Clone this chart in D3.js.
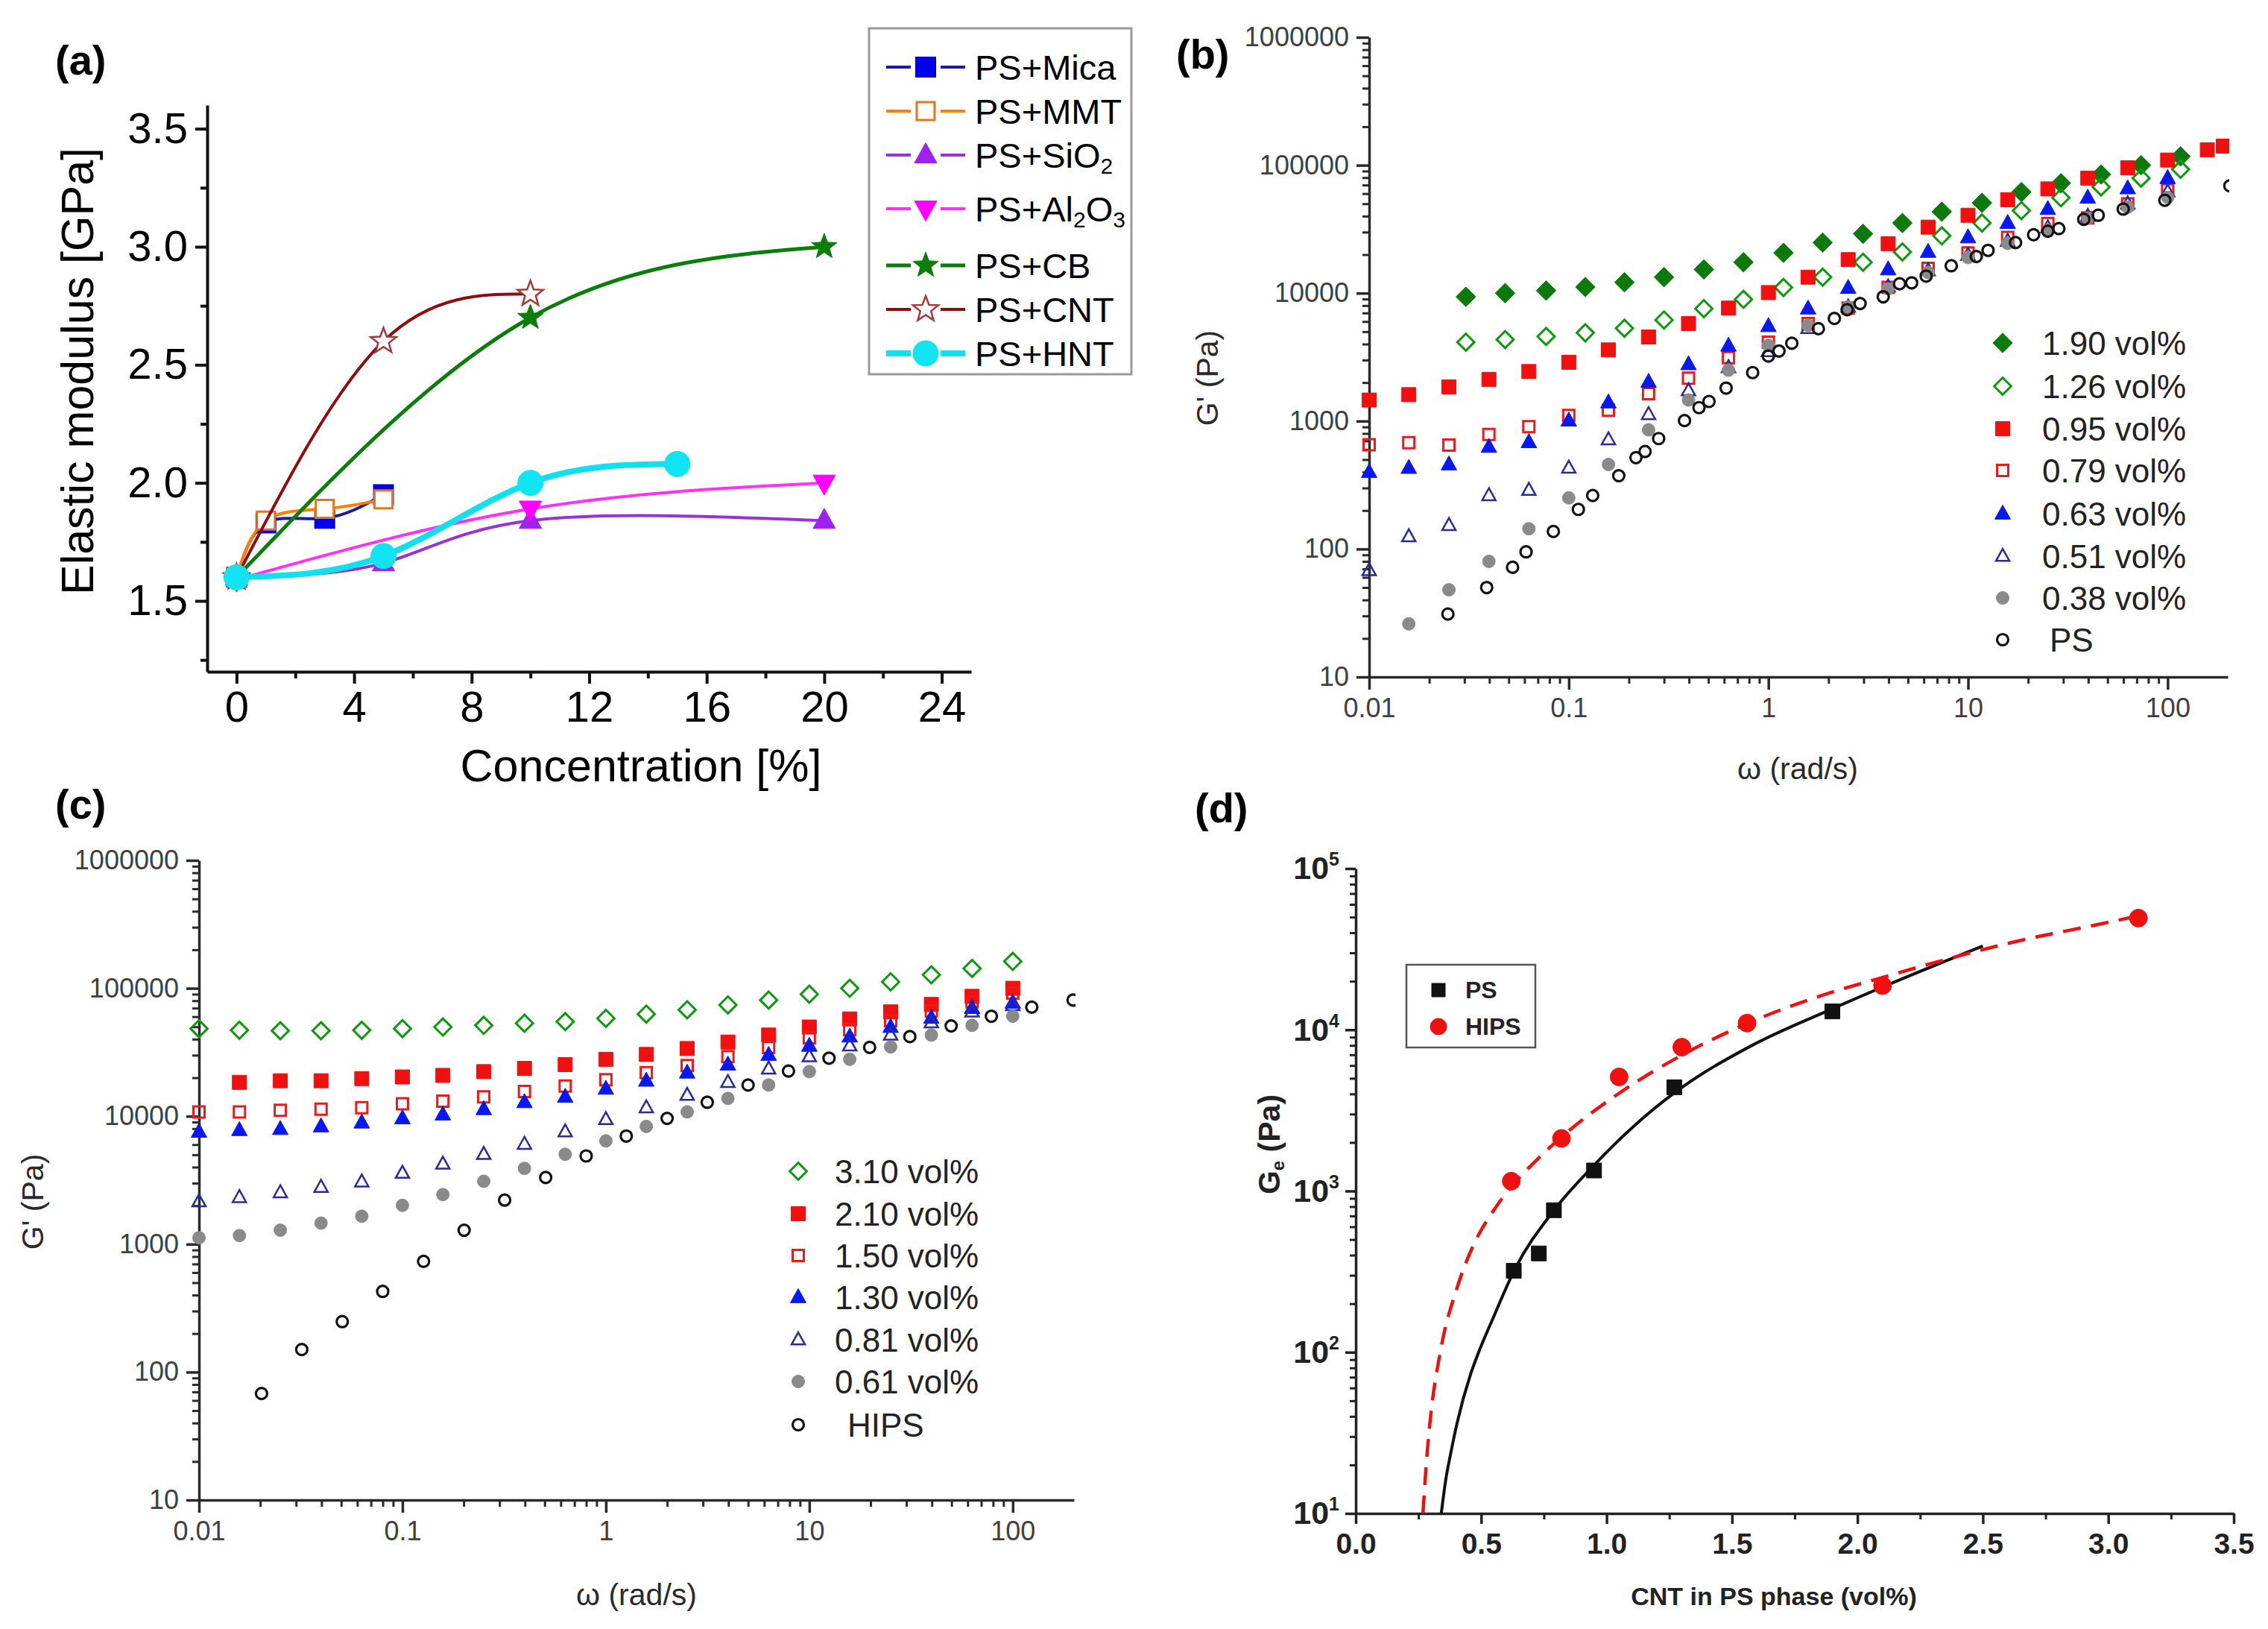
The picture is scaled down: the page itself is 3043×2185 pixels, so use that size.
<!DOCTYPE html>
<html><head><meta charset="utf-8">
<script src="https://cdn.jsdelivr.net/npm/d3@7"></script>
<style>body{margin:0;background:#fff}svg{display:block}</style>
</head><body><svg id="fig" width="3043" height="2185"></svg>
<script>
// ---------------- DATA ----------------
// (a) Elastic modulus vs concentration
const aXDomain = [-1, 25];
const aYDomain = [1.2, 3.6];
const aXTicks = [0, 4, 8, 12, 16, 20, 24];
const aXMinor = [2, 6, 10, 14, 18, 22];
const aYTicks = [1.5, 2.0, 2.5, 3.0, 3.5];
const aYMinor = [1.25, 1.75, 2.25, 2.75, 3.25];
const aLabels = ["PS+Mica", "PS+MMT", "PS+SiO_2", "PS+Al_2O_3", "PS+CB", "PS+CNT", "PS+HNT"];
const micaX = [0, 1, 3, 5];      const micaY = [1.60, 1.83, 1.85, 1.95];
const mmtX = [0, 1, 3, 5];       const mmtY = [1.60, 1.84, 1.89, 1.93];
const sio2X = [0, 5, 10, 20];    const sio2Y = [1.60, 1.66, 1.84, 1.84];
const al2o3X = [0, 10, 20];      const al2o3Y = [1.59, 1.89, 2.00];
const cbX = [0, 10, 20];         const cbY = [1.60, 2.70, 3.00];
const cntX = [0, 5, 10];         const cntY = [1.60, 2.60, 2.80];
const hntX = [0, 5, 10, 15];     const hntY = [1.60, 1.69, 2.00, 2.08];

// (b) G' vs omega, PS nanocomposites
const logXTicks = [0.01, 0.1, 1, 10, 100];
const logYTicks = [10, 100, 1000, 10000, 100000, 1000000];
const bLabels = ["1.90 vol%", "1.26 vol%", "0.95 vol%", "0.79 vol%", "0.63 vol%", "0.51 vol%", "0.38 vol%", "PS"];
const bFreqA = [0.01,0.0158,0.0251,0.0398,0.0631,0.1,0.158,0.251,0.398,0.631,1,1.58,2.51,3.98,6.31,10,15.8,25.1,39.8,63.1,100,158,190];
const bFreqB = [0.0305,0.048,0.077,0.121,0.19,0.30,0.475,0.75,1.19,1.87,2.98,4.69,7.39,11.75,18.5,29.2,46.4,73.6,116];
const b190 = [9370,10000,10470,11170,12160,13340,15320,17450,20650,24830,29100,35340,43350,50800,61700,72300,84600,100000,117200];
const b126 = [4140,4340,4590,4900,5320,6170,7570,8950,11070,13330,17450,21000,28050,35340,44200,55700,67700,79300,92900];
const b095 = [1460,1610,1850,2120,2440,2880,3600,4540,5780,7640,10100,13330,18280,24380,32800,40640,53700,65300,79300,95500,109700,132100,141000];
const b079 = [653,678,650,785,904,1107,1216,1637,2162,3133,4140,5780,7640,11070,15630,20650,27240,35000,38800,49900,64000];
const b063 = [399,430,458,628,684,1009,1397,2025,2779,3880,5520,7570,10970,15320,21000,27240,35340,45400,55700,65900,79300];
const b051 = [68,125,153,262,288,430,716,1127,1729,2626,3500,5300,7800,11200,15000,19800,25500,32500,40000,50000,62000];
const b038 = [26,48,80,144,251,458,854,1462,2500,3900,5600,7800,10800,14500,19000,24500,31000,38500,47000,56000];
const bPsX = [0.0248,0.0388,0.0523,0.0611,0.0837,0.1117,0.1318,0.178,0.217,0.241,0.282,0.380,0.449,0.504,0.614,0.834,1.0,1.13,1.31,1.78,2.14,2.48,2.88,3.76,4.54,5.22,6.17,8.24,11.0,12.6,17.3,21.3,25.1,28.5,38.0,44.9,59.9,96.8,205];
const bPsY = [31,50,72,95,137,204,262,374,518,578,730,1009,1274,1423,1811,2393,3220,3530,4060,5270,6340,7430,8300,9370,11830,12050,13600,16370,19320,21600,24830,28580,30500,31930,37760,40640,45400,53200,69000];

// (c) G' vs omega, HIPS nanocomposites
const cLabels = ["3.10 vol%", "2.10 vol%", "1.50 vol%", "1.30 vol%", "0.81 vol%", "0.61 vol%", "HIPS"];
const cFreq = [0.01,0.0158,0.0251,0.0398,0.0631,0.1,0.158,0.251,0.398,0.631,1,1.58,2.51,3.98,6.31,10,15.8,25.1,39.8,63.1,100];
const c310 = [48400,47000,46600,46600,47000,48400,49800,51300,53300,54900,58200,62900,67900,74100,80900,89900,100000,112300,127400,142900,162200];
const c210 = [18400,18930,18930,19680,20270,20850,22320,23650,25300,27860,30400,33810,38000,43100,49800,57600,65400,74800,86500,100000];
const c150 = [10810,10810,11120,11340,11670,12500,13120,14170,15610,17180,19310,21900,24850,29240,34500,41000,47500,55900,66600,78500,91700];
const c130 = [7550,7780,7930,8320,8910,9620,10300,11340,12860,14170,16380,18930,21900,25300,30130,35500,41900,49800,58700,70000,77100];
const c081 = [2150,2320,2530,2790,3070,3590,4230,5040,6050,7560,9440,11670,14590,18410,23440,29240,35500,43100,53800,65400,73400];
const c061 = [1122,1167,1285,1460,1653,2010,2440,3100,3910,5040,6410,8320,10810,13770,17540,22320,27860,34830,43100,51300,60500];
const cHipsX = [0.0203,0.032,0.0506,0.080,0.127,0.201,0.318,0.506,0.80,1.26,2.0,3.15,5.0,7.9,12.5,19.8,31.2,49.8,78.5,124,198];
const cHipsY = [68,150,248,427,734,1285,2210,3320,4890,7000,9620,12860,17540,22540,28440,34500,41900,50800,60500,71300,80900];

// (d) Ge vs CNT in PS phase
const dXTicks = [0, 0.5, 1.0, 1.5, 2.0, 2.5, 3.0, 3.5];
const dYTicks = [10, 100, 1000, 10000, 100000];
const dLabels = ["PS", "HIPS"];
const dPsX = [0.63, 0.73, 0.79, 0.95, 1.27, 1.90];
const dPsY = [320, 410, 760, 1340, 4400, 13000];
const dHipsX = [0.62, 0.82, 1.05, 1.30, 1.56, 2.10, 3.12];
const dHipsY = [1150, 2120, 5100, 7800, 11000, 18800, 49300];
const dPsFitX = [0.341,0.36,0.377,0.404,0.457,0.49,0.544,0.633,0.79,0.944,1.1,1.28,1.576,1.9,2.2,2.5];
const dPsFitY = [10,16.6,22.9,36.3,72.4,100,158,324,759,1413,2455,4169,7943,13490,21380,33110];
const dHipsFitX = [0.268,0.281,0.297,0.337,0.404,0.471,0.55,0.617,0.72,0.824,1.044,1.297,1.547,1.872,2.09,2.315,2.611,2.98,3.1];
const dHipsFitY = [10,20,38,100,251,468,759,1047,1549,2188,3981,6918,10715,16596,20893,26303,34674,45709,50119];

// ---------------- DRAWING ----------------
const FONT = '"Liberation Sans", Arial, Helvetica, sans-serif';
const svg = d3.select('#fig');
svg.append('rect').attr('width', 3043).attr('height', 2185).attr('fill', '#fff');
const zip = (xs, ys) => xs.map((x, i) => [x, ys[i]]);

function symPath(shape, w) {
  const h = w / 2;
  if (shape === 'square') return `M${-h},${-h}H${h}V${h}H${-h}Z`;
  if (shape === 'diamond') { const k = h * 1.2; return `M0,${-k}L${k},0L0,${k}L${-k},0Z`; }
  if (shape === 'circle') return `M${h},0A${h},${h} 0 1,1 ${-h},0A${h},${h} 0 1,1 ${h},0Z`;
  if (shape === 'triUp') return `M0,${-h * 1.1}L${h},${h * 0.7}L${-h},${h * 0.7}Z`;
  if (shape === 'triDown') return `M0,${h * 1.1}L${h},${-h * 0.7}L${-h},${-h * 0.7}Z`;
  if (shape === 'star') {
    let p = '';
    for (let i = 0; i < 10; i++) {
      const r = i % 2 === 0 ? h : h * 0.42;
      const a = -Math.PI / 2 + i * Math.PI / 5;
      p += (i === 0 ? 'M' : 'L') + (r * Math.cos(a)).toFixed(2) + ',' + (r * Math.sin(a)).toFixed(2);
    }
    return p + 'Z';
  }
}
function marks(g, pts, sx, sy, st) {
  g.append('g').selectAll('path').data(pts).join('path')
    .attr('d', symPath(st.shape, st.size))
    .attr('transform', d => `translate(${sx(d[0])},${sy(d[1])})`)
    .attr('fill', st.fill).attr('stroke', st.stroke).attr('stroke-width', st.sw || 0);
}
function styleAxis(sel, o) {
  sel.select('.domain').attr('stroke', o.color).attr('stroke-width', o.sw);
  sel.selectAll('.tick line').attr('stroke', o.color).attr('stroke-width', o.sw);
  sel.selectAll('.tick text').attr('font-family', FONT).attr('font-size', o.fs)
    .attr('font-weight', o.fw || 'normal').attr('fill', o.tc || '#000');
}
function minorAxis(g, axis, transform, color, sw) {
  const m = g.append('g').attr('transform', transform).call(axis);
  m.select('.domain').remove();
  m.selectAll('.tick line').attr('stroke', color).attr('stroke-width', sw);
  m.selectAll('text').remove();
}
function txt(g, x, y, s, o) {
  const t = g.append('text').attr('x', x).attr('y', y).attr('font-family', FONT)
    .attr('font-size', o.fs).attr('font-weight', o.fw || 'normal').attr('fill', o.fill || '#000')
    .attr('text-anchor', o.anchor || 'start');
  if (o.rot) t.attr('transform', `rotate(${o.rot},${x},${y})`);
  if (o.db) t.attr('dominant-baseline', o.db);
  t.text(s);
  return t;
}
function logMinor(lo, hi) {
  const out = [];
  for (let e = Math.floor(Math.log10(lo)); e < Math.ceil(Math.log10(hi)); e++)
    for (let k = 2; k <= 9; k++) { const v = k * Math.pow(10, e); if (v > lo && v < hi) out.push(v); }
  return out;
}

// ===== Panel (a) =====
(function () {
  const P = { l: 278, r: 1303, t: 141, b: 901 };
  const x = d3.scaleLinear().domain(aXDomain).range([P.l, P.r]);
  const y = d3.scaleLinear().domain(aYDomain).range([P.b, P.t]);
  const g = svg.append('g');
  const ax = { color: '#111', sw: 4, fs: 58 };
  minorAxis(g, d3.axisBottom(x).tickValues(aXMinor).tickSize(9).tickSizeOuter(0), `translate(0,${P.b})`, '#111', 4);
  minorAxis(g, d3.axisLeft(y).tickValues(aYMinor).tickSize(9).tickSizeOuter(0), `translate(${P.l},0)`, '#111', 4);
  g.append('g').attr('transform', `translate(0,${P.b})`)
    .call(d3.axisBottom(x).tickValues(aXTicks).tickFormat(d3.format('d')).tickSize(16).tickSizeOuter(0).tickPadding(10))
    .call(s => styleAxis(s, ax));
  g.append('g').attr('transform', `translate(${P.l},0)`)
    .call(d3.axisLeft(y).tickValues(aYTicks).tickFormat(d3.format('.1f')).tickSize(16).tickSizeOuter(0).tickPadding(10))
    .call(s => styleAxis(s, ax));
  txt(g, 104, 498, 'Elastic modulus [GPa]', { fs: 61, anchor: 'middle', rot: -90, db: 'central' });
  txt(g, 860, 1048, 'Concentration [%]', { fs: 61, anchor: 'middle' });
  txt(g, 74, 100, '(a)', { fs: 56, fw: 'bold' });

  const series = [
    { xs: micaX, ys: micaY, line: '#1b1b9c', lw: 4, m: { shape: 'square', size: 26, fill: '#0000f0', stroke: '#0000c8', sw: 2 } },
    { xs: mmtX, ys: mmtY, line: '#ff8000', lw: 4, m: { shape: 'square', size: 24, fill: '#fff', stroke: '#e8741a', sw: 3 } },
    { xs: sio2X, ys: sio2Y, line: '#9a30d8', lw: 4, m: { shape: 'triUp', size: 30, fill: '#a020f0', stroke: '#a020f0', sw: 1 } },
    { xs: al2o3X, ys: al2o3Y, line: '#ff30ff', lw: 4, m: { shape: 'triDown', size: 30, fill: '#ff00ff', stroke: '#ff00ff', sw: 1 } },
    { xs: cbX, ys: cbY, line: '#0a7d0a', lw: 5, m: { shape: 'star', size: 36, fill: '#0a7d0a', stroke: '#0a7d0a', sw: 1 } },
    { xs: cntX, ys: cntY, line: '#900c0c', lw: 4, m: { shape: 'star', size: 36, fill: '#fff', stroke: '#a33a3a', sw: 2.5 } },
    { xs: hntX, ys: hntY, line: '#10e0ee', lw: 8, m: { shape: 'circle', size: 34, fill: '#10e4f0', stroke: '#10e4f0', sw: 1 } }
  ];
  const line = d3.line().x(d => x(d[0])).y(d => y(d[1])).curve(d3.curveNatural);
  series.forEach(s => {
    g.append('path').attr('d', line(zip(s.xs, s.ys))).attr('fill', 'none')
      .attr('stroke', s.line).attr('stroke-width', s.lw);
    marks(g, zip(s.xs, s.ys), x, y, s.m);
  });
  // legend
  const L = g.append('g');
  L.append('rect').attr('x', 1166).attr('y', 38).attr('width', 352).attr('height', 464)
    .attr('fill', '#fff').attr('stroke', '#9a9a9a').attr('stroke-width', 3);
  const rows = [90, 149, 208, 280, 356, 415, 474];
  series.forEach((s, i) => {
    const ry = rows[i];
    L.append('line').attr('x1', 1189).attr('x2', 1222).attr('y1', ry).attr('y2', ry).attr('stroke', s.line).attr('stroke-width', s.lw);
    L.append('line').attr('x1', 1262).attr('x2', 1295).attr('y1', ry).attr('y2', ry).attr('stroke', s.line).attr('stroke-width', s.lw);
    L.append('path').attr('d', symPath(s.m.shape, s.m.size)).attr('transform', `translate(1242,${ry})`)
      .attr('fill', s.m.fill).attr('stroke', s.m.stroke).attr('stroke-width', s.m.sw);
    const t = txt(L, 1308, ry, '', { fs: 47, db: 'central' });
    aLabels[i].split(/_(\d)/).forEach((part, k) => {
      if (!part) return;
      if (k % 2 === 1) t.append('tspan').attr('font-size', 30).attr('dy', 14).text(part);
      else t.append('tspan').attr('dy', k > 0 ? -14 : 0).text(part);
    });
  });
})();

// ===== log-log panels (b), (c) =====
function logPanel(P, xMax, labelTxt, labelPos, ytPos, xtPos, series, leg) {
  const x = d3.scaleLog().domain([0.01, xMax]).range([P.l, P.r]);
  const y = d3.scaleLog().domain([10, 1e6]).range([P.b, P.t]);
  const g = svg.append('g');
  const col = '#2a2a2a';
  minorAxis(g, d3.axisBottom(x).tickValues(logMinor(0.01, xMax)).tickSize(9).tickSizeOuter(0), `translate(0,${P.b})`, col, 3);
  minorAxis(g, d3.axisLeft(y).tickValues(logMinor(10, 1e6)).tickSize(9).tickSizeOuter(0), `translate(${P.l},0)`, col, 3);
  const ax = { color: col, sw: 3.5, fs: 36, tc: '#404040' };
  g.append('g').attr('transform', `translate(0,${P.b})`)
    .call(d3.axisBottom(x).tickValues(logXTicks).tickFormat(d => String(d)).tickSize(17).tickSizeOuter(0).tickPadding(11))
    .call(s => styleAxis(s, ax));
  g.append('g').attr('transform', `translate(${P.l},0)`)
    .call(d3.axisLeft(y).tickValues(logYTicks).tickFormat(d => String(d)).tickSize(17).tickSizeOuter(0).tickPadding(10))
    .call(s => styleAxis(s, ax));
  txt(g, ytPos[0], ytPos[1], "G' (Pa)", { fs: 41, anchor: 'middle', rot: -90, db: 'central', fill: '#2a2a2a' });
  txt(g, xtPos[0], xtPos[1], 'ω (rad/s)', { fs: 41, anchor: 'middle', fill: '#2a2a2a' });
  txt(g, labelPos[0], labelPos[1], labelTxt, { fs: 56, fw: 'bold' });
  const cid = 'clip' + P.l;
  svg.append('clipPath').attr('id', cid).append('rect')
    .attr('x', P.l - 20).attr('y', P.t - 20).attr('width', P.r - P.l + 22).attr('height', P.b - P.t + 40);
  const pg = g.append('g').attr('clip-path', `url(#${cid})`);
  series.forEach(s => marks(pg, zip(s.xs, s.ys), x, y, s.m));
  series.forEach((s, i) => {
    const ry = leg.rows[i];
    g.append('path').attr('d', symPath(s.m.shape, s.m.size)).attr('transform', `translate(${leg.mx},${ry})`)
      .attr('fill', s.m.fill).attr('stroke', s.m.stroke).attr('stroke-width', s.m.sw || 0);
    txt(g, leg.tx[i], ry, leg.labels[i], { fs: 44, db: 'central', fill: '#222' });
  });
}
const mk = {
  dgF: { shape: 'diamond', size: 22, fill: '#0b7a0b', stroke: '#0b7a0b', sw: 1 },
  dgO: { shape: 'diamond', size: 19, fill: 'none', stroke: '#0a9a0a', sw: 3 },
  sqF: { shape: 'square', size: 19, fill: '#f01010', stroke: '#f01010', sw: 1 },
  sqO: { shape: 'square', size: 15, fill: 'none', stroke: '#f01818', sw: 3 },
  trF: { shape: 'triUp', size: 21, fill: '#0818f0', stroke: '#0818f0', sw: 1 },
  trO: { shape: 'triUp', size: 18, fill: 'none', stroke: '#2a2aa0', sw: 2.5 },
  ciG: { shape: 'circle', size: 17, fill: '#8a8a8a', stroke: '#8a8a8a', sw: 1 },
  ciO: { shape: 'circle', size: 15, fill: 'none', stroke: '#111', sw: 3.2 }
};
logPanel({ l: 1837, r: 2989, t: 50, b: 908 }, 200, '(b)', [1578, 92], [1620, 507], [2412, 1045], [
  { xs: bFreqB, ys: b190, m: mk.dgF },
  { xs: bFreqB, ys: b126, m: mk.dgO },
  { xs: bFreqA, ys: b095, m: mk.sqF },
  { xs: bFreqA.slice(0, b079.length), ys: b079, m: mk.sqO },
  { xs: bFreqA.slice(0, b063.length), ys: b063, m: mk.trF },
  { xs: bFreqA.slice(0, b051.length), ys: b051, m: mk.trO },
  { xs: bFreqA.slice(1, 1 + b038.length), ys: b038, m: mk.ciG },
  { xs: bPsX, ys: bPsY, m: mk.ciO }
], { mx: 2687, tx: [2740, 2740, 2740, 2740, 2740, 2740, 2740, 2750], rows: [460, 518, 575, 631, 689, 746, 802, 858], labels: bLabels });

logPanel({ l: 267, r: 1441, t: 1154, b: 2012 }, 200, '(c)', [74, 1098], [44, 1612], [854, 2153], [
  { xs: cFreq, ys: c310, m: mk.dgO },
  { xs: cFreq.slice(1), ys: c210, m: mk.sqF },
  { xs: cFreq, ys: c150, m: mk.sqO },
  { xs: cFreq, ys: c130, m: mk.trF },
  { xs: cFreq, ys: c081, m: mk.trO },
  { xs: cFreq, ys: c061, m: mk.ciG },
  { xs: cHipsX, ys: cHipsY, m: mk.ciO }
], { mx: 1071, tx: [1120, 1120, 1120, 1120, 1120, 1120, 1137], rows: [1571, 1628, 1684, 1740, 1797, 1853, 1911], labels: cLabels });

// ===== Panel (d) =====
(function () {
  const P = { l: 1819, r: 2997, t: 1165, b: 2030 };
  const x = d3.scaleLinear().domain([0, 3.5]).range([P.l, P.r]);
  const y = d3.scaleLog().domain([10, 1e5]).range([P.b, P.t]);
  const g = svg.append('g');
  const col = '#222';
  minorAxis(g, d3.axisBottom(x).tickValues(dXTicks.slice(0, -1).map(v => v + 0.25)).tickSize(8).tickSizeOuter(0), `translate(0,${P.b})`, col, 3);
  minorAxis(g, d3.axisLeft(y).tickValues(logMinor(10, 1e5)).tickSize(8).tickSizeOuter(0), `translate(${P.l},0)`, col, 3);
  const ax = { color: col, sw: 3.5, fs: 39, fw: 'bold', tc: '#222' };
  g.append('g').attr('transform', `translate(0,${P.b})`)
    .call(d3.axisBottom(x).tickValues(dXTicks).tickFormat(d3.format('.1f')).tickSize(14).tickSizeOuter(0).tickPadding(12))
    .call(s => styleAxis(s, ax));
  const ya = g.append('g').attr('transform', `translate(${P.l},0)`)
    .call(d3.axisLeft(y).tickValues(dYTicks).tickSize(14).tickSizeOuter(0).tickPadding(8))
    .call(s => styleAxis(s, ax));
  ya.selectAll('.tick text').attr('font-size', 43).each(function (d) {
    const t = d3.select(this);
    t.text('10');
    t.append('tspan').attr('dy', -18).attr('font-size', 25).text(Math.round(Math.log10(d)));
  });
  const yt = txt(g, 1703, 1535, 'G', { fs: 41, fw: 'bold', anchor: 'middle', rot: -90, db: 'central', fill: '#222' });
  yt.append('tspan').attr('font-size', 24).attr('dy', 11).text('e');
  yt.append('tspan').attr('dy', -11).text(' (Pa)');
  txt(g, 2380, 2153, 'CNT in PS phase (vol%)', { fs: 34, fw: 'bold', anchor: 'middle', fill: '#222' });
  txt(g, 1603, 1103, '(d)', { fs: 56, fw: 'bold' });

  svg.append('clipPath').attr('id', 'clipd').append('rect')
    .attr('x', P.l).attr('y', P.t - 30).attr('width', P.r - P.l).attr('height', P.b - P.t + 30);
  const pg = g.append('g').attr('clip-path', 'url(#clipd)');
  const line = d3.line().x(d => x(d[0])).y(d => y(d[1])).curve(d3.curveMonotoneX);
  pg.append('path').attr('d', line(zip(dPsFitX, dPsFitY))).attr('fill', 'none').attr('stroke', '#111').attr('stroke-width', 4);
  pg.append('path').attr('d', line(zip(dHipsFitX, dHipsFitY))).attr('fill', 'none').attr('stroke', '#f01010')
    .attr('stroke-width', 4.5).attr('stroke-dasharray', '24,14');
  const mPs = { shape: 'square', size: 20, fill: '#111', stroke: '#111', sw: 1 };
  const mHi = { shape: 'circle', size: 24, fill: '#f01010', stroke: '#f01010', sw: 1 };
  marks(g, zip(dPsX, dPsY), x, y, mPs);
  marks(g, zip(dHipsX, dHipsY), x, y, mHi);
  // legend
  g.append('rect').attr('x', 1887).attr('y', 1294).attr('width', 173).attr('height', 111)
    .attr('fill', '#fff').attr('stroke', '#555').attr('stroke-width', 2.5);
  [mPs, mHi].forEach((m, i) => {
    const ry = [1328, 1377][i];
    g.append('path').attr('d', symPath(m.shape, m.size - 2)).attr('transform', `translate(1930,${ry})`)
      .attr('fill', m.fill).attr('stroke', m.stroke);
    txt(g, 1966, ry, dLabels[i], { fs: 32, fw: 'bold', db: 'central', fill: '#222' });
  });
})();
</script></body></html>
